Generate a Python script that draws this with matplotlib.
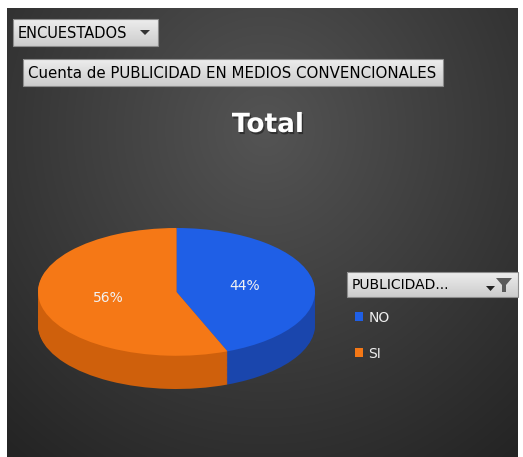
import matplotlib
matplotlib.use('Agg')
import matplotlib.pyplot as plt
import numpy as np
from matplotlib.patches import Rectangle, Polygon
import matplotlib.patheffects as pe

labels = ["NO", "SI"]
values = [44, 56]
top_colors = ["#1f5fe6", "#f57816"]
side_colors = ["#1a46ad", "#cf600c"]

W, H = 523, 457
fig = plt.figure(figsize=(W / 100, H / 100), dpi=100)
fig.patch.set_facecolor("white")

# full-figure axes in pixel units for the backdrop and the pivot-table buttons
bg = fig.add_axes([0, 0, 1, 1])
bg.set_xlim(0, W)
bg.set_ylim(H, 0)
bg.axis("off")

# radial gray gradient of the chart area
x0, x1, y0, y1 = 7, 518, 8, 457
xx, yy = np.meshgrid(np.linspace(x0, x1, 300), np.linspace(y0, y1, 300))
r = np.sqrt(((xx - 265) / 400) ** 2 + ((yy - 130) / 420) ** 2)
r = np.clip(r, 0, 1)
g = (84 - 48 * r) / 255
img = np.dstack([g, g, g])
bg.imshow(img, extent=(x0, x1, y1, y0), aspect="auto", zorder=0, interpolation="bilinear")


def button(x, y, w, h, text, size):
    grad = np.linspace(0.93, 0.80, 50)[:, None]
    grad = np.dstack([grad, grad, grad])
    bg.imshow(grad, extent=(x, x + w, y + h, y), aspect="auto", zorder=2)
    bg.add_patch(Rectangle((x, y), w, h, fill=False, ec="#8c8c8c", lw=0.8, zorder=3))
    bg.text(x + 5, y + h / 2 + 0.5, text, fontsize=size, color="black",
            va="center", ha="left", zorder=4)


button(13, 19, 145, 27, "ENCUESTADOS", 10.5)
bg.add_patch(Polygon([[140, 30], [150, 30], [145, 35]], closed=True, fc="#333333", zorder=4))
button(23, 59, 420, 27, "Cuenta de PUBLICIDAD EN MEDIOS CONVENCIONALES", 10.8)

# legend header with the filter icon
button(347, 272, 171, 25, "PUBLICIDAD...", 10)
bg.add_patch(Polygon([[496, 278], [512, 278], [506, 285], [506, 292], [502, 292], [502, 285]],
                     closed=True, fc="#5a5a5a", zorder=4))
bg.add_patch(Polygon([[486, 286], [495, 286], [490.5, 291]], closed=True, fc="#222222", zorder=4))

fig.text(268 / W, 1 - 125 / H, "Total", fontsize=19, fontweight="bold", color="white",
         ha="center", va="center",
         path_effects=[pe.withSimplePatchShadow(offset=(1, -1.5), shadow_rgbFace="black", alpha=0.4)])

# pie drawn as a flattened disc with a thick side
ax = fig.add_axes([38 / W, 1 - 389 / H, 277 / W, 161 / H])
depth = 0.52
steps = 40
for k in range(steps, 0, -1):
    ax.pie(values, colors=side_colors, startangle=90, counterclock=False,
           center=(0, -depth * k / steps), wedgeprops=dict(linewidth=0))
wedges, texts, autotexts = ax.pie(values, colors=top_colors, startangle=90, counterclock=False,
                                  autopct="%1.0f%%", pctdistance=0.5,
                                  wedgeprops=dict(linewidth=0),
                                  textprops=dict(color="#f2f2f2", fontsize=10))
ax.set_aspect("auto")
ax.set_xlim(-1, 1)
ax.set_ylim(-1 - depth, 1)
ax.axis("off")

fig.legend(wedges, labels, loc="upper left", bbox_to_anchor=(342 / W, 1 - 298 / H),
           frameon=False, handlelength=0.6, handleheight=0.6, handletextpad=0.4,
           labelspacing=1.6, labelcolor="#eeeeee", fontsize=10)

plt.savefig("out.png", dpi=100)
